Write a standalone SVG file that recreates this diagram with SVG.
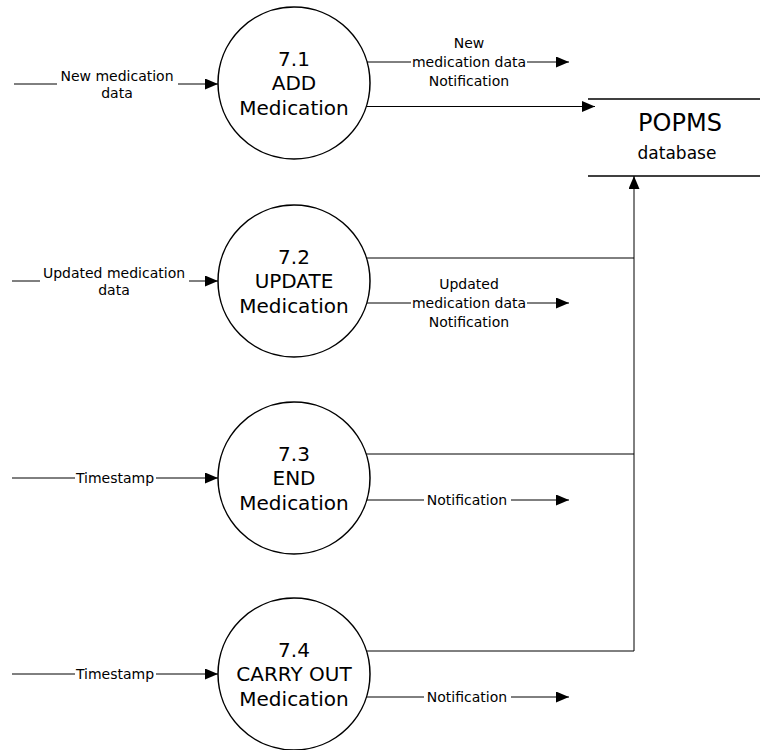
<svg xmlns="http://www.w3.org/2000/svg" width="760" height="750" viewBox="0 0 760 750">
<defs>
<marker id="arr" markerUnits="userSpaceOnUse" markerWidth="14" markerHeight="12" refX="13" refY="5.5" orient="auto">
<path d="M0,0 L13,5.5 L0,11 z" fill="#000"/>
</marker>
<style>
.proc circle{fill:#fff;stroke:#000;stroke-width:1.5}
.ptxt{font-family:"DejaVu Sans",sans-serif;font-size:20px;fill:#000;text-anchor:middle}
.lbl{font-family:"DejaVu Sans",sans-serif;font-size:14px;fill:#000;text-anchor:middle}
.conn path{fill:none;stroke:#000;stroke-width:1}
.arrow{marker-end:url(#arr)}
.store line{stroke:#000;stroke-width:1.5}
</style>
</defs>
<rect width="760" height="750" fill="#fff"/>

<g id="connectors" class="conn">
<!-- inputs -->
<path class="arrow" d="M14,84 H57 M178,84 H218"/>
<path class="arrow" d="M12,281 H40 M189,281 H218"/>
<path class="arrow" d="M12,478 H75 M156,478 H218"/>
<path class="arrow" d="M12,674 H75 M156,674 H218"/>
<!-- outputs -->
<path class="arrow" d="M367,62 H411 M527,62 H569"/>
<path class="arrow" d="M366,106.5 H595"/>
<path class="arrow" d="M367,303 H411 M527,303 H569"/>
<path class="arrow" d="M367,500 H424 M511,500 H569"/>
<path class="arrow" d="M366,697 H424 M511,697 H569"/>
<!-- to store from below -->
<path d="M366,258 H634"/>
<path d="M366,454 H634"/>
<path class="arrow" d="M366,651 H634 V176"/>
</g>

<g id="labels">
<text class="lbl" x="117" y="81">New medication</text>
<text class="lbl" x="117" y="98">data</text>
<text class="lbl" x="114" y="278">Updated medication</text>
<text class="lbl" x="114" y="295">data</text>
<text class="lbl" x="115" y="483">Timestamp</text>
<text class="lbl" x="115" y="679">Timestamp</text>
<text class="lbl" x="469" y="48">New</text>
<text class="lbl" x="469" y="67">medication data</text>
<text class="lbl" x="469" y="86">Notification</text>
<text class="lbl" x="469" y="289">Updated</text>
<text class="lbl" x="469" y="308">medication data</text>
<text class="lbl" x="469" y="327">Notification</text>
<text class="lbl" x="467" y="505">Notification</text>
<text class="lbl" x="467" y="702">Notification</text>
</g>

<g id="p71" class="proc">
<circle cx="294" cy="83" r="76"/>
<text class="ptxt" x="294" y="66">7.1</text>
<text class="ptxt" x="294" y="90">ADD</text>
<text class="ptxt" x="294" y="115">Medication</text>
</g>
<g id="p72" class="proc">
<circle cx="294" cy="281" r="76"/>
<text class="ptxt" x="294" y="264">7.2</text>
<text class="ptxt" x="294" y="288">UPDATE</text>
<text class="ptxt" x="294" y="313">Medication</text>
</g>
<g id="p73" class="proc">
<circle cx="294" cy="478" r="76"/>
<text class="ptxt" x="294" y="461">7.3</text>
<text class="ptxt" x="294" y="485">END</text>
<text class="ptxt" x="294" y="510">Medication</text>
</g>
<g id="p74" class="proc">
<circle cx="294" cy="674" r="76"/>
<text class="ptxt" x="294" y="657">7.4</text>
<text class="ptxt" x="294" y="681">CARRY OUT</text>
<text class="ptxt" x="294" y="706">Medication</text>
</g>

<g id="store" class="store">
<line x1="588" y1="99" x2="760" y2="99"/>
<line x1="588" y1="176" x2="760" y2="176"/>
<text x="680" y="131" font-family="DejaVu Sans, sans-serif" font-size="24" text-anchor="middle">POPMS</text>
<text x="677" y="159" font-family="DejaVu Sans, sans-serif" font-size="17" text-anchor="middle">database</text>
</g>
</svg>
